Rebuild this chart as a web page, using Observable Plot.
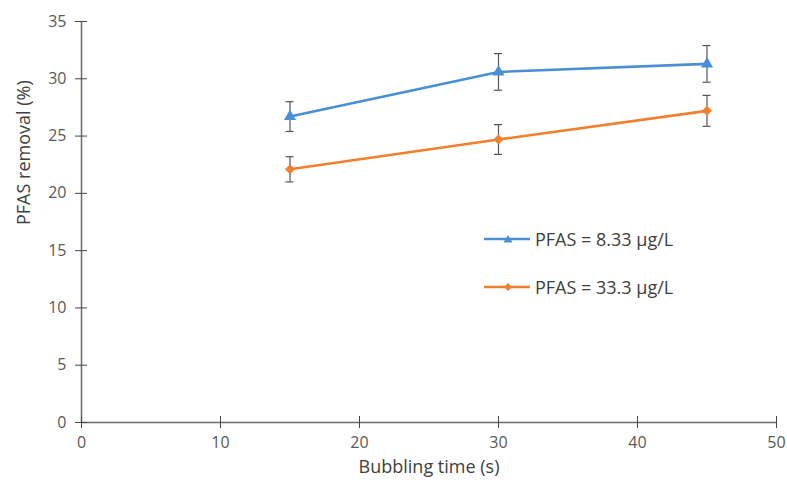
<!DOCTYPE html>
<html><head><meta charset="utf-8">
<script src="https://cdn.jsdelivr.net/npm/d3@7"></script>
<script src="https://cdn.jsdelivr.net/npm/@observablehq/plot@0.6"></script>
<style>
body{margin:0;background:#fff;font-family:"Open Sans",sans-serif;}
#wrap{position:relative;width:787px;height:485px;}
.leg{position:absolute;font-size:18px;color:#404040;display:flex;align-items:center;white-space:nowrap;height:22px;}
</style></head>
<body><div id="wrap"></div>
<script>
const times = [15, 30, 45];
const seriesNames = ["PFAS = 8.33 µg/L", "PFAS = 33.3 µg/L"];
const blueValues = [26.7, 30.6, 31.3];
const blueErr = [1.3, 1.6, 1.6];
const orangeValues = [22.1, 24.7, 27.2];
const orangeErr = [1.1, 1.3, 1.35];
const xTicks = [0, 10, 20, 30, 40, 50];
const yTicks = [0, 5, 10, 15, 20, 25, 30, 35];
const colors = ["#4a8fd6", "#f07f2e"];
const symbols = ["triangle", "diamond2"];

const rows = [];
times.forEach((t, i) => {
  rows.push({s: seriesNames[0], x: t, y: blueValues[i], e: blueErr[i]});
  rows.push({s: seriesNames[1], x: t, y: orangeValues[i], e: orangeErr[i]});
});

const axisColor = "#6b6b6b";
const chart = Plot.plot({
  width: 787, height: 485,
  marginLeft: 81, marginRight: 11, marginTop: 21, marginBottom: 63,
  style: {fontFamily: "Open Sans, sans-serif", fontSize: "16px", color: "#595959", background: "#fff"},
  x: {domain: [0, 50], ticks: xTicks},
  y: {domain: [0, 35], ticks: yTicks},
  color: {domain: seriesNames, range: colors},
  symbol: {domain: seriesNames, range: symbols},
  marks: [
    Plot.ruleX([0], {stroke: axisColor, strokeWidth: 1.5}),
    Plot.ruleY([0], {stroke: axisColor, strokeWidth: 1.5}),
    Plot.axisY({ticks: yTicks, tickSize: 12, dx: 6, text: null, stroke: "#444", label: null}),
    Plot.axisY({ticks: yTicks, tickSize: 0, tickPadding: 15, fill: "#595959", fontSize: 16, label: null}),
    Plot.axisX({ticks: xTicks, tickSize: 12, dy: -6, text: null, stroke: "#444", label: null}),
    Plot.axisX({ticks: xTicks, tickSize: 0, tickPadding: 14, fill: "#595959", fontSize: 16, label: null}),
    Plot.text(["Bubbling time (s)"], {frameAnchor: "bottom", dy: 50, fontSize: 18, fill: "#404040"}),
    Plot.text(["PFAS removal (%)"], {frameAnchor: "left", dx: -57, dy: 3, rotate: -90, fontSize: 18, fill: "#404040"}),
    Plot.line(rows, {x: "x", y: "y", z: "s", stroke: "s", strokeWidth: 2.6}),
    Plot.ruleX(rows, {x: "x", y1: d => d.y - d.e, y2: d => d.y + d.e, stroke: "#555", strokeWidth: 1.2}),
    Plot.ruleY(rows, {y: d => d.y + d.e, x1: "x", x2: "x", insetLeft: -4, insetRight: -4, stroke: "#555", strokeWidth: 1.2}),
    Plot.ruleY(rows, {y: d => d.y - d.e, x1: "x", x2: "x", insetLeft: -4, insetRight: -4, stroke: "#555", strokeWidth: 1.2}),
    Plot.dot(rows, {x: "x", y: "y", symbol: "s", fill: "s", r: 4.5})
  ]
});
const wrap = document.getElementById("wrap");
wrap.appendChild(chart);

const legCenters = [238.5, 287];
seriesNames.forEach((name, i) => {
  const div = document.createElement("div");
  div.className = "leg";
  div.style.left = "484px";
  div.style.top = (legCenters[i] - 11) + "px";
  const sym = i === 0
    ? `<path d="M24,5 L28.5,12.5 L19.5,12.5 Z" fill="${colors[i]}"/>`
    : `<path d="M24,5 L28,9 L24,13 L20,9 Z" fill="${colors[i]}"/>`;
  div.innerHTML = `<svg width="46" height="18" style="margin-right:5px"><line x1="0" y1="9" x2="46" y2="9" stroke="${colors[i]}" stroke-width="2.6"/>${sym}</svg><span>${name}</span>`;
  wrap.appendChild(div);
});
</script></body></html>
